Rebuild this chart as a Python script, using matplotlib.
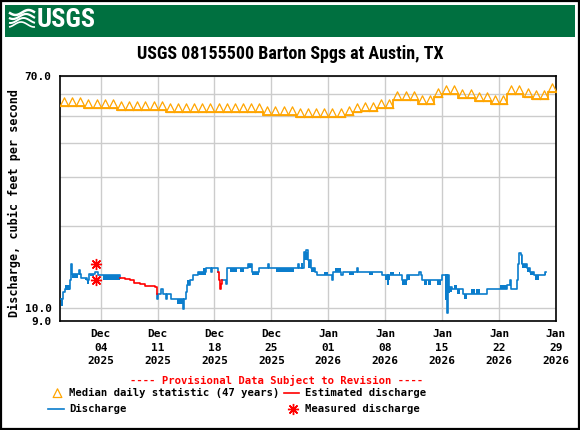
import numpy as np
import matplotlib
matplotlib.use("Agg")
import matplotlib.pyplot as plt
from matplotlib.path import Path
from matplotlib.patches import Rectangle

# ---- data (x = days since 2025-11-29 00:00) ----
median_cfs = [54.3, 54.3, 54.3, 53.4, 53.4, 53.4, 53.4,
              52.6, 52.6, 52.6, 52.6, 52.6, 52.6,
              51.7, 51.7, 51.7, 51.7, 51.7, 51.7, 51.7, 51.7, 51.7, 51.7, 51.7, 51.7,
              50.3, 50.3, 50.3, 50.3,
              49.5, 49.5, 49.5, 49.5, 49.5, 49.5,
              50.3, 51.7, 52.4, 52.4, 53.4, 53.4,
              57.3, 57.3, 57.3, 55.2, 55.2, 58.9, 60.0, 60.0,
              58.0, 58.0, 56.7, 56.7, 55.2, 55.2, 60.0, 60.0,
              58.9, 57.8, 57.8, 61.0]

# approved-style discharge (blue), NaN separates pieces interrupted by estimates
q_day = [0.08, 0.22, 0.28, 0.33, 0.57, 0.66, 1.23, 1.31, 1.45, 2.30, 2.46, 2.63,
         3.36, 3.61, 4.27, 4.68, 7.34, np.nan,
         11.98, 11.99, 12.06, 12.47, 12.72, 13.09, 13.20, 13.70, 15.14, 15.22,
         15.55, 15.67, 15.96, 16.37, 16.98, 18.01, 18.55, 18.70, 19.45, np.nan,
         19.90, 20.43, 20.59, 23.06, 23.59, 24.53, 25.64, 25.72, 29.33, 29.40,
         29.74, 29.80, 29.95, 30.28, 30.44, 30.85, 31.38, 31.59, 33.44, 33.56,
         34.54, 34.79, 36.51, 36.60, 39.59, 40.33, 40.40, 42.05, 42.67, 44.10,
         44.43, 44.51, 46.97, 47.45, 47.50, 47.62, 47.72, 47.80, 47.88, 48.21,
         49.52, 52.51, 54.97, 55.38, 55.45, 56.21, 56.33, 56.41, 56.50, 56.66,
         56.82, 57.44, 57.85, 58.26, 59.69, 59.77]
q_val = [10.84, 10.25, 10.84, 11.47, 11.69, 11.79, 12.72, 14.46, 13.38, 13.83, 13.38, 12.94,
         12.72, 13.38, 13.56, 13.27, 12.94, np.nan,
         11.31, 10.84, 11.31, 11.79, 11.31, 10.84, 11.31, 10.84, 9.97, 10.84,
         11.47, 12.13, 12.65, 13.19, 13.56, 14.06, 13.56, 14.06, 13.56, np.nan,
         12.72, 12.30, 14.06, 14.55, 13.56, 14.06, 14.55, 14.06, 14.55, 14.06,
         14.55, 14.06, 16.04, 16.35, 15.04, 14.06, 13.56, 13.19, 12.72, 13.56,
         13.19, 13.56, 14.06, 13.56, 13.19, 12.30, 13.19, 12.65, 13.19, 13.56,
         13.19, 12.72, 13.19, 10.80, 13.19, 9.62, 13.19, 11.47, 11.95, 11.79,
         11.31, 11.79, 12.20, 12.72, 11.79, 12.72, 14.55, 15.60, 15.95, 15.60,
         14.55, 14.06, 13.56, 13.19, 13.56, 13.56]

# stretches where the 15-minute record flips between two levels
band_start = [0.66, 1.48, 3.04, 3.36, 3.70, 5.29, 14.44, 15.67, 16.98, 17.60,
              20.92, 22.15, 23.06, 23.59, 26.58, 29.95, 30.56, 30.85, 32.49, 33.85,
              35.49, 37.95, 40.00, 40.62, 41.64, 42.05, 42.67, 44.72, 45.25, 46.36,
              47.88, 48.41, 48.82, 49.72, 50.58, 51.16, 54.15, 56.66, 56.82, 57.44,
              57.85, 58.46, 59.60]
band_end = [1.23, 2.22, 3.30, 3.60, 4.20, 7.34, 15.14, 15.96, 18.01, 18.00,
            21.74, 22.65, 23.59, 24.53, 28.72, 30.56, 30.85, 31.38, 32.90, 34.54,
            36.10, 38.48, 40.62, 41.03, 41.85, 42.67, 43.08, 45.13, 45.66, 46.89,
            48.21, 48.82, 49.23, 50.05, 51.08, 51.69, 54.97, 56.82, 57.44, 57.85,
            58.26, 58.87, 59.77]
band_low = [11.63, 12.94, 12.72, 12.30, 13.08, 12.65, 10.40, 12.13, 13.19, 13.56,
            13.56, 13.56, 14.06, 13.19, 13.56, 14.95, 14.06, 13.56, 13.19, 13.56,
            13.19, 13.19, 12.72, 13.19, 13.19, 12.13, 12.72, 12.20, 12.20, 12.20,
            11.47, 11.79, 11.31, 10.84, 11.31, 11.31, 11.79, 14.55, 14.06, 13.56,
            13.19, 12.72, 13.19]
band_high = [12.13, 13.38, 12.94, 12.72, 13.38, 13.27, 10.84, 12.65, 13.56, 14.06,
             14.06, 14.06, 14.55, 13.56, 14.06, 16.04, 14.95, 14.06, 13.56, 14.06,
             13.56, 13.56, 13.19, 13.56, 13.56, 12.65, 13.19, 12.72, 12.72, 12.72,
             11.95, 12.20, 11.79, 11.31, 11.79, 11.79, 12.20, 15.60, 14.55, 14.06,
             13.56, 13.19, 13.56]

# estimated discharge (red)
est1_day = [7.34, 7.96, 8.57, 9.11, 9.81, 10.50, 11.65, 11.98]
est1_val = [12.94, 12.83, 12.65, 12.40, 12.27, 12.03, 11.93, 11.31]
est2_day = [19.45, 19.55, 19.69, 19.80, 19.90]
est2_val = [13.56, 12.72, 11.79, 12.30, 12.72]

# field measurements
meas_day = [4.47, 4.47]
meas_val = [14.55, 12.65]

tick_day = [5, 12, 19, 26, 33, 40, 47, 54, 61]
tick_labels = ["Dec\n04\n2025", "Dec\n11\n2025", "Dec\n18\n2025", "Dec\n25\n2025",
               "Jan\n01\n2026", "Jan\n08\n2026", "Jan\n15\n2026", "Jan\n22\n2026",
               "Jan\n29\n2026"]

BLUE = "#0b7dcc"
ORANGE = "#ffa500"
RED = "#ff0000"
GREEN = "#007040"
MONO = "DejaVu Sans Mono"
NARROW = ["Roboto Condensed", "DejaVu Sans Condensed", "Liberation Sans Narrow",
          "Liberation Sans"]

W, H = 580, 430
fig = plt.figure(figsize=(W / 100, H / 100), dpi=100)
fig.patch.set_facecolor("white")

ax = fig.add_axes([60 / W, 1 - 321 / H, 496 / W, 245 / H])
ax.set_yscale("log")
ax.set_xlim(0, 61)
ax.set_ylim(9.0, 70.0)

# grid
ax.set_yticks([9.0, 10.0, 70.0])
ax.set_yticklabels(["9.0", "10.0", "70.0"])
ax.set_yticks([20, 30, 40, 50, 60], minor=True)
ax.yaxis.set_minor_formatter(plt.NullFormatter())
ax.set_xticks(tick_day)
ax.set_xticklabels(tick_labels, linespacing=1.42)
ax.grid(True, which="both", color="#cccccc", lw=1.0, zorder=0)
ax.tick_params(which="both", length=0)
ax.tick_params(axis="x", pad=6)
ax.tick_params(axis="y", pad=6)
for lab in ax.get_xticklabels() + ax.get_yticklabels():
    lab.set_fontfamily(MONO)
    lab.set_fontweight("bold")
    lab.set_fontsize(8)
for sp in ax.spines.values():
    sp.set_linewidth(1.2)
ax.set_axisbelow(True)

# median daily statistic: stair line with triangles sitting on it
days = np.arange(len(median_cfs))
ax.stairs(median_cfs, np.arange(len(median_cfs) + 1), baseline=None,
          color=ORANGE, lw=1.3, zorder=3)
tri = Path([(-1, 0), (0, 2.0), (1, 0), (-1, 0)],
           [Path.MOVETO, Path.LINETO, Path.LINETO, Path.CLOSEPOLY])
ax.plot(days + 0.5, median_cfs, ls="none", marker=tri, ms=12.5,
        mfc="none", mec=ORANGE, mew=0.9, zorder=3)

# discharge
for s, e, lo, hi in zip(band_start, band_end, band_low, band_high):
    ax.fill_between([s, e], [lo, lo], [hi, hi], color=BLUE, lw=0, zorder=4)
ax.plot(q_day, q_val, drawstyle="steps-post", color=BLUE, lw=1.2, zorder=4)
ax.plot(est1_day, est1_val, drawstyle="steps-post", color=RED, lw=1.2, zorder=4)
ax.plot(est2_day, est2_val, drawstyle="steps-post", color=RED, lw=1.2, zorder=4)
ax.plot(meas_day, meas_val, ls="none", marker=(8, 2, 0), ms=8, mec=RED,
        mew=1.0, zorder=5)

# decoration layer in pixel coordinates
deco = fig.add_axes([0, 0, 1, 1], zorder=-1)
deco.set_xlim(0, W)
deco.set_ylim(H, 0)
deco.axis("off")
deco.add_patch(Rectangle((5, 5), 570, 31.7, color=GREEN, lw=0))
deco.add_patch(Rectangle((0.8, 0.8), W - 1.6, H - 1.6, fill=False, ec="black", lw=1.6))

# logo swooshes
xs = np.linspace(9, 35, 40)
for k, off in enumerate([12.5, 16.5, 20.5, 24.5]):
    deco.plot(xs, off + 2.5 * np.sin((xs - 9) / 26 * 2 * np.pi + k * 0.6),
              color="white", lw=1.8 - 0.2 * k, solid_capstyle="butt")

top = fig.add_axes([0, 0, 1, 1], zorder=5)
top.set_xlim(0, W)
top.set_ylim(H, 0)
top.axis("off")
top.patch.set_alpha(0)

top.text(37, 20, "USGS", color="white", fontsize=19, fontweight="bold",
         fontstretch="condensed", family=NARROW, ha="left", va="center")
top.text(290, 54, "USGS 08155500 Barton Spgs at Austin, TX", fontsize=13,
         fontweight="bold", fontstretch="condensed", family=NARROW,
         ha="center", va="center")
top.text(14, 203, "Discharge, cubic feet per second", rotation=90, family=MONO,
         fontweight="bold", fontsize=8.5, ha="center", va="center")

top.text(277, 380, "---- Provisional Data Subject to Revision ----", color=RED,
         family=MONO, fontweight="bold", fontsize=7.6, ha="center", va="center")
top.plot([57], [397], ls="none", marker=tri, ms=12.5, mfc="none", mec=ORANGE, mew=0.9)
top.text(69, 393, "Median daily statistic (47 years)", family=MONO,
         fontweight="bold", fontsize=7.6, ha="left", va="center")
top.plot([284, 299], [393, 393], color=RED, lw=1.2)
top.text(305, 393, "Estimated discharge", family=MONO, fontweight="bold",
         fontsize=7.6, ha="left", va="center")
top.plot([48, 64], [409, 409], color=BLUE, lw=1.2)
top.text(69, 409, "Discharge", family=MONO, fontweight="bold", fontsize=7.6,
         ha="left", va="center")
top.plot([293], [409], ls="none", marker=(8, 2, 0), ms=8, mec=RED, mew=1.0)
top.text(305, 409, "Measured discharge", family=MONO, fontweight="bold",
         fontsize=7.6, ha="left", va="center")

fig.savefig("out.png", dpi=100)
